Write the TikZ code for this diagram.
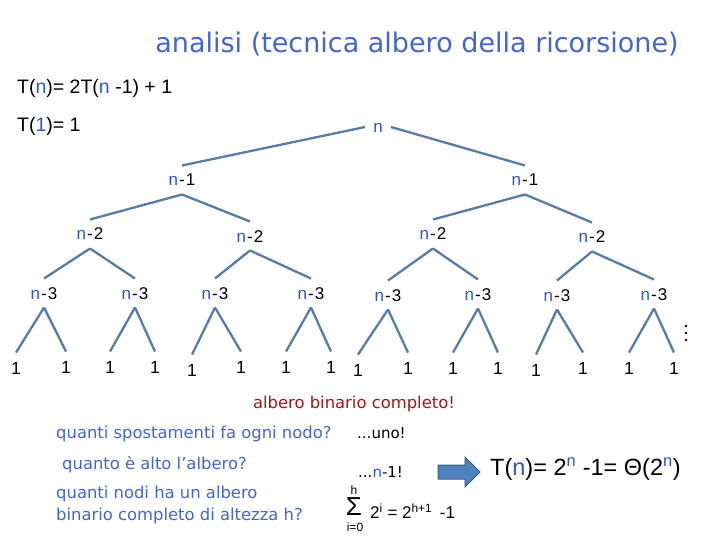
\documentclass[tikz,border=0pt]{standalone}
\usepackage{fontspec}
\setmainfont{Liberation Sans}
\newfontfamily\comicf{DejaVu Sans}
\definecolor{nblue}{HTML}{3355C0}
\definecolor{tblue}{HTML}{4466CC}
\definecolor{linec}{HTML}{5A7BA6}
\definecolor{dred}{HTML}{A01818}
\definecolor{arrfill}{HTML}{4F81BD}
\definecolor{arrdraw}{HTML}{385D8A}
\newcommand\myn{\textcolor{nblue}{n}}
\newcommand\mydash{\kern1pt-\kern1pt}
\begin{document}
\begin{tikzpicture}[x=1pt,y=-1pt,
  tn/.style={font=\fontsize{17}{19}\selectfont, text height=12pt, text depth=0pt, inner xsep=2pt, inner ysep=8.3pt},
  lf/.style={font=\fontsize{17.5}{20}\selectfont, text height=12.5pt, text depth=0pt, inner xsep=2pt, inner ysep=9pt},
  edge/.style={draw=linec, line width=2.3pt},
  txt/.style={anchor=west, inner sep=0pt, font=\fontsize{16}{18}\selectfont},
  ctxt/.style={anchor=west, inner sep=0pt, text=tblue, font=\comicf\fontsize{16.4}{22}\selectfont}]
\useasboundingbox (0,0) rectangle (720,540);
% title and recurrence
\node[inner sep=0pt, text=tblue, font=\comicf\fontsize{27}{30}\selectfont] (title) at (417,44) {analisi (tecnica albero della ricorsione)};
\node[txt, font=\fontsize{19.5}{22}\selectfont] (rec1) at (17,88) {T(\myn)= 2T(\myn{} -1) + 1};
\node[txt, font=\fontsize{19.5}{22}\selectfont] (rec2) at (17,126) {T(\textcolor{nblue}{1})= 1};
% tree
\node[tn, inner xsep=8pt] (root) at (378,127) {\myn};
\node[tn] (L) at (182,180) {\myn\mydash1};
\node[tn] (R) at (525,180) {\myn\mydash1};
\node[tn] (LL) at (90,234) {\myn\mydash2};
\node[tn] (LR) at (250,236) {\myn\mydash2};
\node[tn] (RL) at (433,234) {\myn\mydash2};
\node[tn] (RR) at (592,237) {\myn\mydash2};
\foreach \i/\x/\y in {1/44/293,2/135/293,3/215/293,4/311/293,5/388/295,6/478/294,7/557/295,8/654/294}
  \node[tn] (a\i) at (\x,\y) {\myn\mydash3};
\foreach \i/\x/\y in {1/16/368,2/66/367,3/110/367,4/155/367,5/192/370,6/241/367,7/286/367,8/331/367,
  9/358/370,10/408/368,11/453/368,12/498/368,13/536/370,14/583/368,15/629/368,16/674/368}
  \node[lf] (f\i) at (\x,\y) {1};
\draw[edge] (root.west) -- (L.north);
\draw[edge] (root.east) -- (R.north);
\draw[edge] (L.south) -- (LL.north);
\draw[edge] (L.south) -- (LR.north);
\draw[edge] (R.south) -- (RL.north);
\draw[edge] (R.south) -- (RR.north);
\draw[edge] (LL.south) -- (a1.north);
\draw[edge] (LL.south) -- (a2.north);
\draw[edge] (LR.south) -- (a3.north);
\draw[edge] (LR.south) -- (a4.north);
\draw[edge] (RL.south) -- (a5.north);
\draw[edge] (RL.south) -- (a6.north);
\draw[edge] (RR.south) -- (a7.north);
\draw[edge] (RR.south) -- (a8.north);
\foreach \i in {1,...,8}{
  \pgfmathtruncatemacro\l{2*\i-1}
  \pgfmathtruncatemacro\r{2*\i}
  \draw[edge] (a\i.south) -- (f\l.north);
  \draw[edge] (a\i.south) -- (f\r.north);
}
\foreach \y in {326,333,340} \fill (686,\y) circle (1.3pt);
% bottom texts
\node[inner sep=0pt, text=dred, font=\comicf\fontsize{16.4}{18}\selectfont] (comp) at (354,404) {albero binario completo!};
\node[ctxt] (q1) at (56,434) {quanti spostamenti fa ogni nodo?};
\node[ctxt] (q2) at (62,465) {quanto è alto l’albero?};
\node[ctxt, align=left] (q3) at (56,505) {quanti nodi ha un albero\\binario completo di altezza h?};
\node[txt, font=\comicf\fontsize{15}{17}\selectfont] (a1t) at (357,433) {...uno!};
\node[txt, font=\comicf\fontsize{15}{17}\selectfont] (a2t) at (358,472) {...\myn-1!};
\node[inner sep=0pt, font=\fontsize{26}{28}\selectfont] (sig) at (354,507) {Σ};
\node[inner sep=0pt, font=\fontsize{12}{13}\selectfont] (sigh) at (354,490) {h};
\node[inner sep=0pt, font=\fontsize{12}{13}\selectfont] (sigi) at (355,527) {i=0};
\node[txt, font=\fontsize{17}{19}\selectfont] (sumr) at (370,511) {2\textsuperscript{i} = 2\textsuperscript{h+1}\, -1};
% arrow
\draw[fill=arrfill, draw=arrdraw, line width=1pt] (438,465) -- (465,465) -- (465,457) -- (480,472) -- (465,487) -- (465,479) -- (438,479) -- cycle;
\node[txt, font=\fontsize{23.5}{26}\selectfont] (res) at (490,469) {T(\myn)= 2\textsuperscript{\myn} -1= Θ(2\textsuperscript{\myn})};
\end{tikzpicture}
\end{document}
